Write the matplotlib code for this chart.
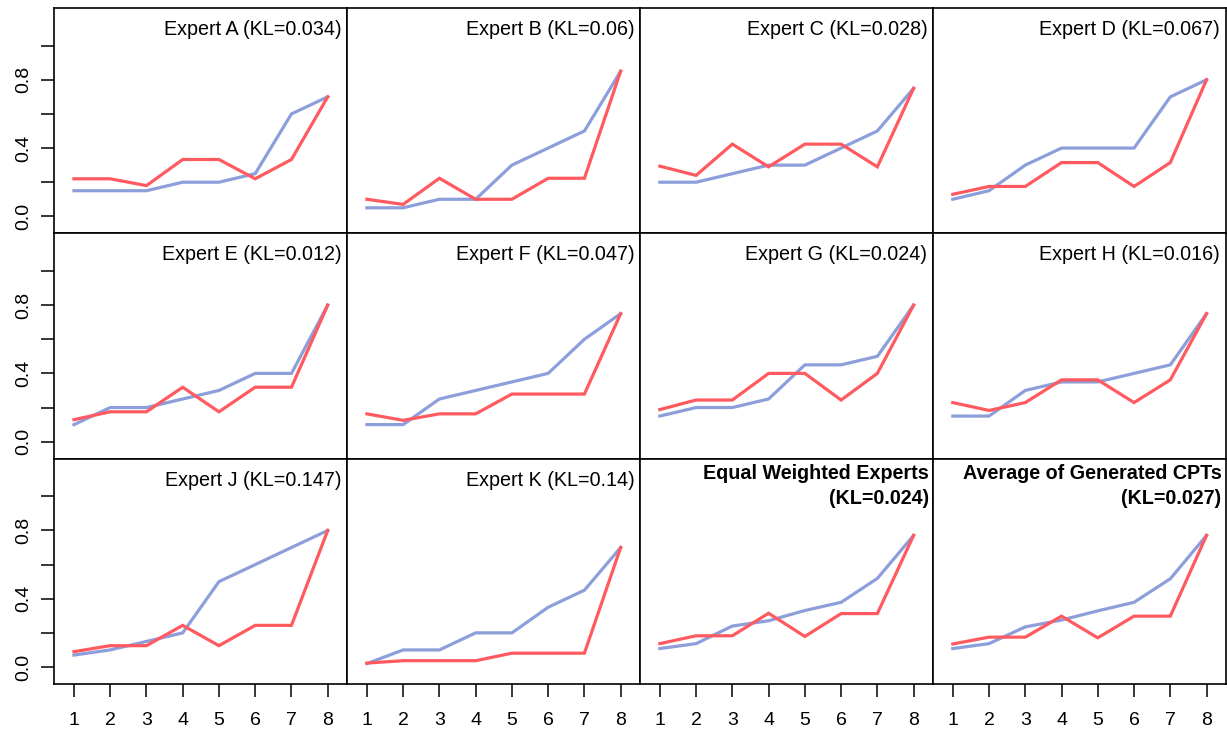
import matplotlib
matplotlib.use('Agg')
import matplotlib.pyplot as plt

plt.rcParams['font.family'] = ['Liberation Sans', 'DejaVu Sans']

x = [1, 2, 3, 4, 5, 6, 7, 8]

titles = [
    'Expert A (KL=0.034)', 'Expert B (KL=0.06)', 'Expert C (KL=0.028)', 'Expert D (KL=0.067)',
    'Expert E (KL=0.012)', 'Expert F (KL=0.047)', 'Expert G (KL=0.024)', 'Expert H (KL=0.016)',
    'Expert J (KL=0.147)', 'Expert K (KL=0.14)',
    'Equal Weighted Experts\n(KL=0.024)', 'Average of Generated CPTs\n(KL=0.027)',
]

# blue series
blue = [
    [0.15, 0.15, 0.15, 0.20, 0.20, 0.25, 0.60, 0.70],
    [0.05, 0.05, 0.10, 0.10, 0.30, 0.40, 0.50, 0.85],
    [0.20, 0.20, 0.25, 0.30, 0.30, 0.40, 0.50, 0.75],
    [0.10, 0.15, 0.30, 0.40, 0.40, 0.40, 0.70, 0.80],
    [0.10, 0.20, 0.20, 0.25, 0.30, 0.40, 0.40, 0.80],
    [0.10, 0.10, 0.25, 0.30, 0.35, 0.40, 0.60, 0.75],
    [0.15, 0.20, 0.20, 0.25, 0.45, 0.45, 0.50, 0.80],
    [0.15, 0.15, 0.30, 0.35, 0.35, 0.40, 0.45, 0.75],
    [0.07, 0.10, 0.15, 0.20, 0.50, 0.60, 0.70, 0.80],
    [0.02, 0.10, 0.10, 0.20, 0.20, 0.35, 0.45, 0.70],
    [0.108, 0.137, 0.24, 0.271, 0.331, 0.379, 0.519, 0.771],
    [0.108, 0.137, 0.235, 0.275, 0.329, 0.379, 0.517, 0.771],
]

# red series
red = [
    [0.22, 0.22, 0.18, 0.333, 0.333, 0.22, 0.333, 0.70],
    [0.10, 0.07, 0.223, 0.10, 0.10, 0.223, 0.223, 0.85],
    [0.294, 0.24, 0.423, 0.29, 0.423, 0.423, 0.29, 0.75],
    [0.129, 0.175, 0.175, 0.315, 0.315, 0.175, 0.315, 0.80],
    [0.129, 0.175, 0.175, 0.319, 0.175, 0.319, 0.319, 0.80],
    [0.163, 0.125, 0.163, 0.163, 0.279, 0.279, 0.279, 0.75],
    [0.188, 0.244, 0.244, 0.40, 0.40, 0.244, 0.40, 0.80],
    [0.229, 0.183, 0.229, 0.362, 0.362, 0.229, 0.362, 0.75],
    [0.09, 0.125, 0.125, 0.244, 0.125, 0.244, 0.244, 0.80],
    [0.023, 0.037, 0.037, 0.037, 0.081, 0.081, 0.081, 0.70],
    [0.137, 0.183, 0.183, 0.315, 0.179, 0.313, 0.313, 0.771],
    [0.135, 0.175, 0.175, 0.298, 0.171, 0.298, 0.298, 0.771],
]

blue_col = '#8c9fdb'
red_col = '#ff5a5f'

fig, axes = plt.subplots(3, 4, figsize=(12.27, 7.34), dpi=100, sharex=True, sharey=True)
fig.subplots_adjust(left=0.044, right=0.999, top=0.989, bottom=0.068, wspace=0, hspace=0)

for i, ax in enumerate(axes.flat):
    ax.plot(x, blue[i], color=blue_col, lw=2.3, solid_joinstyle='miter')
    ax.plot(x, red[i], color=red_col, lw=2.3, solid_joinstyle='miter')
    ax.set_xlim(0.45, 8.53)
    ax.set_ylim(-0.1, 1.22)
    for s in ax.spines.values():
        s.set_linewidth(1.2)

    # panel label, right-aligned in the top corner (pixel offsets -> points)
    lines = titles[i].split('\n')
    if len(lines) == 1:
        ax.annotate(lines[0], xy=(1, 1), xycoords='axes fraction',
                    xytext=(-4, -15.5), textcoords='offset points',
                    ha='right', va='center', fontsize=14.2)
    else:
        for k, line in enumerate(lines):
            ax.annotate(line, xy=(1, 1), xycoords='axes fraction',
                        xytext=(-3, -10.5 - 18 * k), textcoords='offset points',
                        ha='right', va='center', fontsize=14.2, fontweight='bold')

    row, col = divmod(i, 4)
    ax.tick_params(direction='out', length=9.4, width=1.1, labelsize=14)
    ax.set_xticks(x)
    ax.set_yticks([0.0, 0.2, 0.4, 0.6, 0.8, 1.0])
    ax.set_yticklabels(['0.0', '', '0.4', '', '0.8', ''])
    if col == 0:
        ax.tick_params(axis='y', pad=6.5)
        for lab in ax.get_yticklabels():
            lab.set_rotation(90)
            lab.set_va('center')
    else:
        ax.tick_params(axis='y', left=False, labelleft=False)
    if row != 2:
        ax.tick_params(axis='x', bottom=False, labelbottom=False)
    else:
        ax.tick_params(axis='x', pad=11)

fig.savefig('out.png', dpi=100)
